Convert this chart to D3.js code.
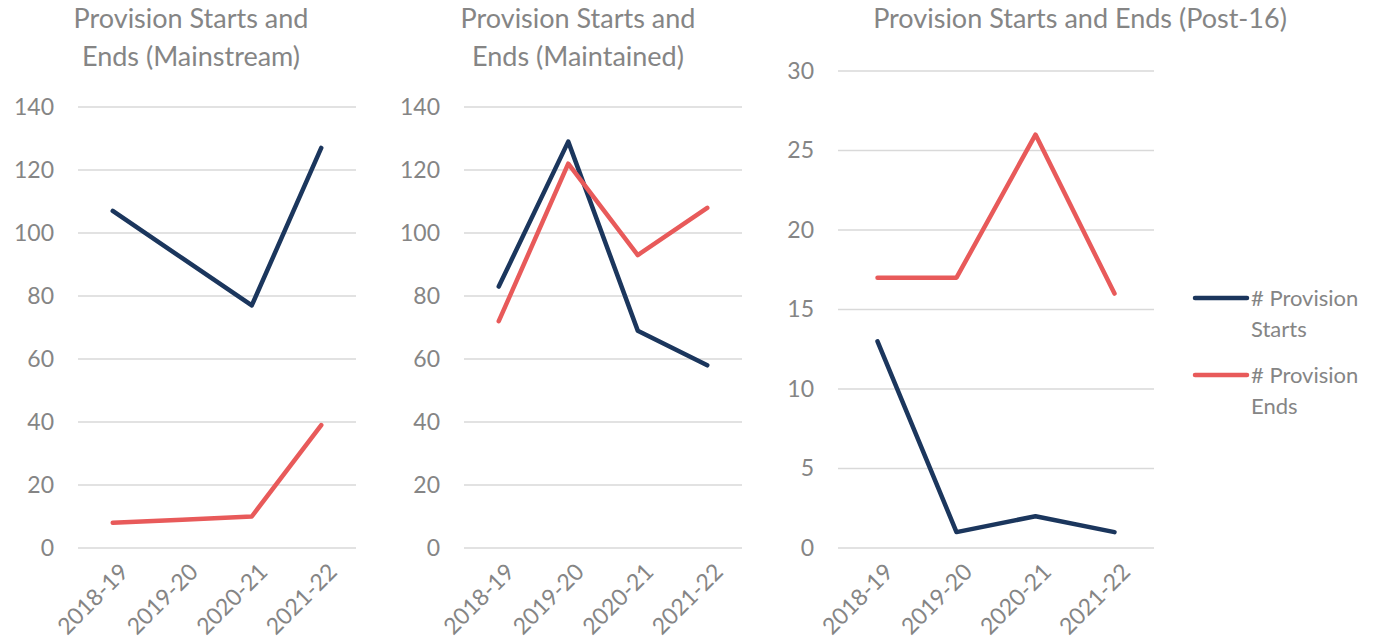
<!DOCTYPE html>
<html><head><meta charset="utf-8">
<script src="https://cdn.jsdelivr.net/npm/d3@7/dist/d3.min.js"></script>
<style>body{margin:0;background:#fff;} svg{display:block;} text{font-family:Lato,"Noto Sans",sans-serif;}</style>
</head><body><svg id="c" width="1388" height="641"></svg>
<script>
const categories = ["2018-19","2019-20","2020-21","2021-22"];
const mainStarts = [107, 92, 77, 127];
const mainEnds = [8, 9, 10, 39];
const maintStarts = [83, 129, 69, 58];
const maintEnds = [72, 122, 93, 108];
const postStarts = [13, 1, 2, 1];
const postEnds = [17, 17, 26, 16];
const ticks140 = [0,20,40,60,80,100,120,140];
const ticks30 = [0,5,10,15,20,25,30];
const seriesNames = ["# Provision Starts", "# Provision Ends"];
const colors = ["#1b365d", "#e85a5a"];

const svg = d3.select("#c");
const gray = "#858585";

const panels = [
  {title:["Provision Starts and","Ends (Mainstream)"], x0:78, x1:356, top:107, max:140, ticks:ticks140, data:[mainStarts, mainEnds], tx:191, ty:[28,66]},
  {title:["Provision Starts and","Ends (Maintained)"], x0:464, x1:742, top:107, max:140, ticks:ticks140, data:[maintStarts, maintEnds], tx:578, ty:[28,66]},
  {title:["Provision Starts and Ends (Post-16)"], x0:838, x1:1154, top:71, max:30, ticks:ticks30, data:[postStarts, postEnds], tx:1080, ty:[28]}
];
const bottom = 548;

panels.forEach(p => {
  const g = svg.append("g");
  const x = d3.scaleBand().domain(categories).range([p.x0, p.x1]);
  const y = d3.scaleLinear().domain([0, p.max]).range([bottom, p.top]);
  g.selectAll("line.grid").data(p.ticks).enter().append("line")
    .attr("x1", p.x0).attr("x2", p.x1)
    .attr("y1", d => y(d)).attr("y2", d => y(d))
    .attr("stroke", "#d9d9d9").attr("stroke-width", 1.3);
  const ya = d3.axisLeft(y).tickValues(p.ticks).tickSize(0).tickPadding(0);
  const yg = g.append("g").attr("transform", `translate(${p.x0-24},0)`).call(ya);
  yg.select(".domain").remove();
  yg.selectAll("text").attr("fill", gray).style("font-size", "23px").style("font-family", "Lato");
  const xa = d3.axisBottom(x).tickSize(0).tickPadding(0);
  const xg = g.append("g").attr("transform", `translate(0,${bottom+18})`).call(xa);
  xg.select(".domain").remove();
  xg.selectAll("text").attr("fill", gray).style("font-size", "23px").style("font-family", "Lato")
    .attr("text-anchor", "end").attr("y", 0).attr("dy", "0.75em").attr("dx", "0.3em")
    .attr("transform", "rotate(-45)");
  const line = d3.line().x((d,i) => x(categories[i]) + x.bandwidth()/2).y(d => y(d));
  p.data.forEach((s, k) => {
    g.append("path").datum(s).attr("d", line).attr("fill", "none")
      .attr("stroke", colors[k]).attr("stroke-width", 4.5)
      .attr("stroke-linejoin", "round").attr("stroke-linecap", "round");
  });
  p.title.forEach((t, i) => {
    g.append("text").attr("x", p.tx).attr("y", p.ty[i]).attr("text-anchor", "middle")
      .attr("fill", gray).style("font-size", "27px").text(t);
  });
});

const leg = svg.append("g");
const legY = [298, 375];
seriesNames.forEach((n, k) => {
  leg.append("line").attr("x1", 1195).attr("x2", 1247).attr("y1", legY[k]).attr("y2", legY[k])
    .attr("stroke", colors[k]).attr("stroke-width", 4.5).attr("stroke-linecap", "round");
  const parts = [n.split(" ").slice(0,2).join(" "), n.split(" ").slice(2).join(" ")];
  parts.forEach((t, i) => {
    leg.append("text").attr("x", 1251).attr("y", legY[k] + i*31 + 8)
      .attr("fill", gray).style("font-size", "22px").text(t);
  });
});
</script></body></html>
